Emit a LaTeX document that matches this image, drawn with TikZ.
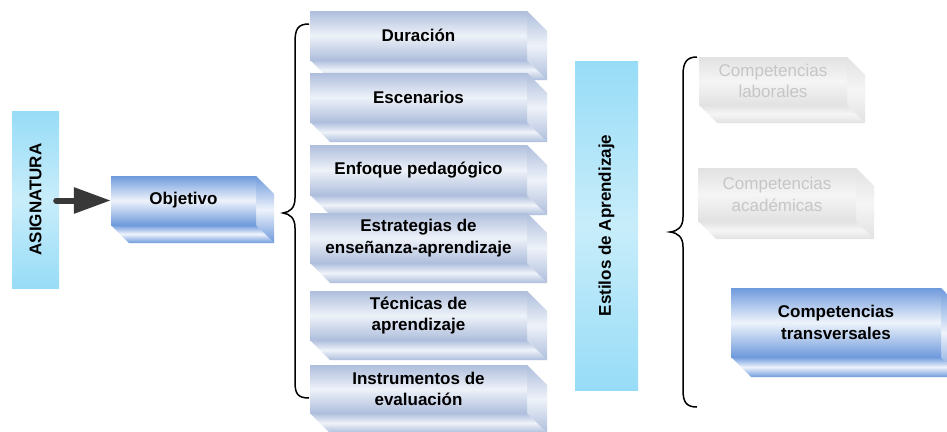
\documentclass[tikz,border=0pt]{standalone}
\usepackage{fontspec}
\setmainfont{Liberation Sans}
\usetikzlibrary{arrows.meta}
\definecolor{colE}{HTML}{AEBEDC}
\definecolor{colM}{HTML}{EEF2F9}
\definecolor{strE}{HTML}{6E9ADC}
\definecolor{strM}{HTML}{EEF3FB}
\definecolor{gryE}{HTML}{E2E2E2}
\definecolor{gryM}{HTML}{F5F5F5}
\definecolor{gryT}{HTML}{C6C6C6}
\definecolor{cyaE}{HTML}{97DCF7}
\definecolor{cyaM}{HTML}{C8EDFA}
\definecolor{arrC}{HTML}{383838}
\tikzset{
  pale/.style={top color=colE, bottom color=colE, middle color=colM},
  strong/.style={top color=strE, bottom color=strE, middle color=strM},
  grayish/.style={top color=gryE, bottom color=gryE, middle color=gryM},
  boxtext/.style={font=\fontsize{17}{21.5}\selectfont\bfseries, align=center, text=black, inner sep=0pt},
  palefront/.style={pale, boxtext},
  strongfront/.style={strong, boxtext},
  grayishfront/.style={grayish, boxtext, font=\fontsize{17}{21.5}\selectfont, text=gryT},
  cyanbar/.style={top color=cyaE, bottom color=cyaE, middle color=cyaM, boxtext, rotate=90},
  bracket/.style={draw=black, line width=1.5pt},
  bigarrow/.style={draw=arrC, line width=6pt, line cap=round, -{Triangle[length=37pt,width=25pt]}},
}
% #1 style, #2 name, #3 x1, #4 y1, #5 x2, #6 y2, #7 depth, #8 text
\newcommand{\cubo}[8]{%
  \shade[#1] (#3,#6) -- (#5,#6) -- ++(#7,#7) -- ++({#3-#5},0) -- cycle;
  \shade[#1] (#5,#4) -- ++(#7,#7) -- ++(0,{#6-#4}) -- (#5,#6) -- cycle;
  \node[#1front, minimum width={#5-#3}, minimum height={#6-#4}] (#2) at ({(#3+#5)/2},{(#4+#6)/2}) {#8};
}
\begin{document}
\begin{tikzpicture}[x=1pt,y=-1pt]
\clip (0,0) rectangle (947,431);
\fill[white] (0,0) rectangle (947,431);

% left bar
\node[cyanbar, minimum width=177, minimum height=47] (asig) at (35.5,199.5) {ASIGNATURA};

% Objetivo
\cubo{strong}{obj}{111}{176}{256}{225}{18}{Objetivo}

% arrow
\draw[bigarrow] ([xshift=-3pt]asig.south |- obj.west) -- (obj.west);

% column of boxes
\cubo{pale}{dur}{310}{11}{527}{60}{20}{Duración}
\cubo{pale}{esc}{310}{73}{527}{122}{20}{Escenarios}
\cubo{pale}{enf}{310}{145}{527}{195}{20}{Enfoque pedagógico}
\cubo{pale}{est}{310}{213}{527}{263}{20}{Estrategias de\\enseñanza-aprendizaje}
\cubo{pale}{tec}{310}{291}{527}{340}{20}{Técnicas de\\aprendizaje}
\cubo{pale}{ins}{310}{365}{527}{413}{20}{Instrumentos de\\evaluación}

% brace 1
\draw[bracket] (309,24) .. controls (298,24) and (295,29) .. (295,42) -- (295,198)
  .. controls (295,208) and (290,212) .. (283,213)
  .. controls (290,214) and (295,218) .. (295,228) -- (295,382)
  .. controls (295,394) and (298,398) .. (309,398);

% right bar
\node[cyanbar, minimum width=329, minimum height=63] (estilos) at (606.5,225.5) {Estilos de Aprendizaje};

% brace 2
\draw[bracket] (697,57) .. controls (687,57) and (683,62) .. (683,75) -- (683,217)
  .. controls (683,227) and (678,231) .. (670,232)
  .. controls (678,233) and (683,237) .. (683,247) -- (683,390)
  .. controls (683,403) and (687,407) .. (697,407);

% competence boxes
\cubo{grayish}{lab}{699}{57}{847}{105}{18}{Competencias\\laborales}
\cubo{grayish}{aca}{698}{168}{856}{221}{18}{Competencias\\académicas}
\cubo{strong}{tra}{731}{288}{941}{357}{20}{Competencias\\transversales}
\end{tikzpicture}
\end{document}
